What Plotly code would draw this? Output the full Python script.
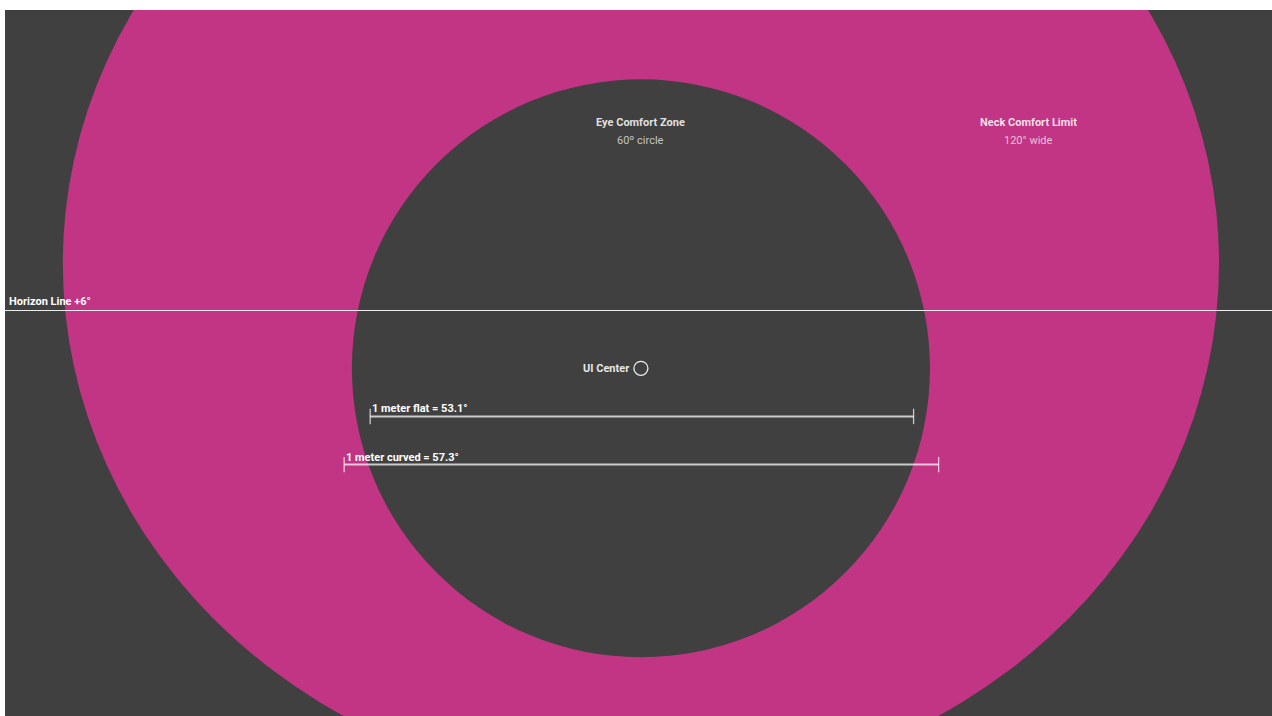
import plotly.graph_objects as go

# ---- data (degrees, relative to UI center) ----
eye_radius = 30.0                 # 60° circle
neck_half_width = 60.0            # 120° wide
neck_center_y = 10.9
neck_half_height = 54.8
horizon_deg = 6.0

zone_titles = ["Eye Comfort Zone", "Neck Comfort Limit"]
zone_subtitles = ["60º circle", "120° wide"]
zone_label_x = [0.0, 40.2]
zone_label_y = [25.5, 23.7]

bar_labels = ["1 meter flat = 53.1°", "1 meter curved = 57.3°"]
bar_x0 = [-28.1, -30.8]
bar_x1 = [28.3, 30.9]
bar_y = [-5.0, -10.0]

x_range = [-66.0, 65.5]
y_range = [-36.1, 37.2]

PINK = "#c13584"
DARK = "#404040"
FONT = "Roboto"
BAR_COL = "rgba(255,255,255,0.72)"

fig = go.Figure()

shapes = [
    dict(type="circle", xref="x", yref="y",
         x0=-neck_half_width, x1=neck_half_width,
         y0=neck_center_y - neck_half_height, y1=neck_center_y + neck_half_height,
         fillcolor=PINK, line=dict(width=0), layer="below"),
    dict(type="circle", xref="x", yref="y",
         x0=-eye_radius, x1=eye_radius, y0=-eye_radius, y1=eye_radius,
         fillcolor=DARK, line=dict(width=0), layer="below"),
    dict(type="line", xref="paper", yref="y", x0=0, x1=1,
         y0=horizon_deg, y1=horizon_deg,
         line=dict(color="rgba(255,255,255,0.9)", width=1)),
]

# measurement bars
for lab, x0, x1, y in zip(bar_labels, bar_x0, bar_x1, bar_y):
    fig.add_trace(go.Scatter(
        x=[x0, x1], y=[y, y], mode="lines+markers",
        line=dict(color=BAR_COL, width=2),
        marker=dict(symbol="line-ns-open", size=11, color=BAR_COL,
                    line=dict(color=BAR_COL, width=1.3)),
        hoverinfo="skip", showlegend=False))

# UI center marker
fig.add_trace(go.Scatter(
    x=[0], y=[0], mode="markers",
    marker=dict(symbol="circle-open", size=14, color="rgba(255,255,255,0.9)",
                line=dict(color="rgba(255,255,255,0.9)", width=1.3)),
    hoverinfo="skip", showlegend=False))

annotations = []
for t, s, x in zip(zone_titles, zone_subtitles, zone_label_x):
    annotations.append(dict(x=x, y=zone_label_y[0], text=t, showarrow=False,
                            xanchor="center", yanchor="middle",
                            font=dict(family=FONT, size=11, color="rgba(255,255,255,0.85)", weight="bold")))
    annotations.append(dict(x=x, y=zone_label_y[1], text=s, showarrow=False,
                            xanchor="center", yanchor="middle",
                            font=dict(family=FONT, size=11, color="rgba(255,255,255,0.7)")))

annotations.append(dict(x=0, y=0, text="UI Center", showarrow=False,
                        xanchor="right", yanchor="middle", xshift=-10,
                        font=dict(family=FONT, size=11, color="rgba(255,255,255,0.9)", weight="bold")))

annotations.append(dict(xref="paper", x=0, y=horizon_deg, text="Horizon Line +6°",
                        showarrow=False, xanchor="left", yanchor="bottom",
                        xshift=2, yshift=1,
                        font=dict(family=FONT, size=11, color="white", weight="bold")))

for lab, x0, y in zip(bar_labels, bar_x0, bar_y):
    annotations.append(dict(x=x0, y=y, text=lab, showarrow=False,
                            xanchor="left", yanchor="bottom", xshift=0, yshift=-1,
                            font=dict(family=FONT, size=11, color="white", weight="bold")))

fig.update_layout(
    width=1272, height=716,
    margin=dict(l=5, r=0, t=10, b=0, pad=0),
    paper_bgcolor="white", plot_bgcolor=DARK,
    shapes=shapes, annotations=annotations,
    xaxis=dict(range=x_range, visible=False, fixedrange=True),
    yaxis=dict(range=y_range, visible=False, fixedrange=True),
    showlegend=False,
)

fig.write_html(
    "out.html",
    config={"displayModeBar": False},
    post_script="document.body.style.margin='0';document.body.style.overflow='hidden';",
)
